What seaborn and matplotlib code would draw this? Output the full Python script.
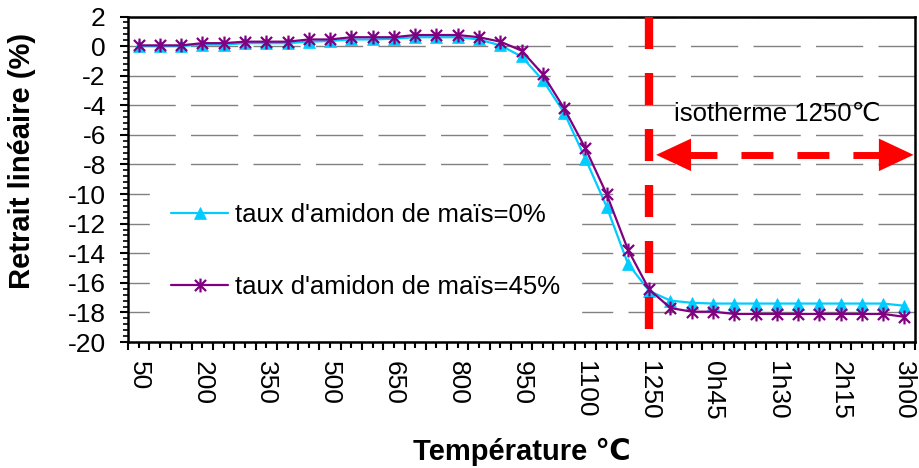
import numpy as np
import pandas as pd
import matplotlib
matplotlib.use("Agg")
import matplotlib.pyplot as plt
from matplotlib.path import Path
from matplotlib.ticker import MultipleLocator
import seaborn as sns


# -----------------------------
# 1. Data
# -----------------------------
# x categories : heating ramp (°C) then time spent on the 1250°C isotherm
temperatures = ["50", "100", "150", "200", "250", "300", "350", "400", "450",
                "500", "550", "600", "650", "700", "750", "800", "850", "900",
                "950", "1000", "1050", "1100", "1150", "1200", "1250"]
durations = ["0h15", "0h30", "0h45", "1h00", "1h15", "1h30",
             "1h45", "2h00", "2h15", "2h30", "2h45", "3h00"]
categories = temperatures + durations

# linear shrinkage (%)
retrait_0 = [0.0, 0.0, 0.0, 0.1, 0.1, 0.2, 0.2, 0.2, 0.3, 0.35, 0.45, 0.45,
             0.5, 0.6, 0.6, 0.6, 0.45, 0.05, -0.7, -2.3, -4.5, -7.6, -10.85,
             -14.7, -16.55, -17.2, -17.35, -17.4, -17.4, -17.4, -17.4, -17.4,
             -17.4, -17.4, -17.4, -17.4, -17.55]
retrait_45 = [0.05, 0.05, 0.05, 0.2, 0.2, 0.3, 0.3, 0.3, 0.45, 0.45, 0.6, 0.6,
              0.6, 0.75, 0.75, 0.75, 0.6, 0.3, -0.3, -1.9, -4.2, -6.9, -10.0,
              -13.75, -16.45, -17.7, -17.95, -17.95, -18.1, -18.1, -18.1, -18.1,
              -18.1, -18.1, -18.1, -18.1, -18.3]

label_0 = "taux d'amidon de maïs=0%"
label_45 = "taux d'amidon de maïs=45%"
isotherm = "1250"

data = pd.DataFrame({
    "Categorie": categories,
    "Position": np.arange(len(categories)),
    "Retrait_0": retrait_0,
    "Retrait_45": retrait_45,
})


# -----------------------------
# 2. Style
# -----------------------------
sns.set_style("ticks")
plt.rcParams["font.family"] = ["Liberation Sans", "DejaVu Sans"]
plt.rcParams["axes.unicode_minus"] = False
plt.rcParams["text.color"] = "black"
plt.rcParams["axes.labelcolor"] = "black"
plt.rcParams["xtick.color"] = "black"
plt.rcParams["ytick.color"] = "black"

fig = plt.figure(figsize=(9.19, 4.68), dpi=100)
ax = fig.add_axes([0.1393, 0.2692, 0.8564, 0.6955])

# asterisk marker : vertical bar + cross
star = Path(
    [(0, -1), (0, 1), (-0.8, -0.8), (0.8, 0.8), (-0.8, 0.8), (0.8, -0.8)],
    [Path.MOVETO, Path.LINETO] * 3,
)


# -----------------------------
# 3. Curves
# -----------------------------
sns.lineplot(data=data, x="Position", y="Retrait_0", ax=ax,
             color="#00CCFF", lw=1.6, marker="^", markersize=9,
             markeredgecolor="#00CCFF", markeredgewidth=0.5,
             label=label_0, zorder=3)
sns.lineplot(data=data, x="Position", y="Retrait_45", ax=ax,
             color="#800080", lw=1.6, marker=star, markersize=10,
             markeredgecolor="#800080", markeredgewidth=1.6,
             label=label_45, zorder=4)


# -----------------------------
# 4. Isotherm marks
# -----------------------------
ymin, ymax = -20, 2
n = len(categories)
iso = categories.index(isotherm)

ax.plot([iso, iso], [ymax, ymin], color="red", lw=6,
        linestyle=(0, (3.84, 2.88)), zorder=5, clip_on=True)

arrow_y = -7.35
head_h = 1.1
ax.fill([iso + 0.33, iso + 1.97, iso + 1.97],
        [arrow_y, arrow_y + head_h, arrow_y - head_h],
        color="red", lw=0, zorder=5)
ax.fill([n - 0.57, n - 2.2, n - 2.2],
        [arrow_y, arrow_y + head_h, arrow_y - head_h],
        color="red", lw=0, zorder=5)
ax.plot([iso + 1.69, n - 2.0], [arrow_y, arrow_y], color="red", lw=5,
        linestyle=(0, (4.6, 3.46)), zorder=5)

ax.text(iso + 6.0, -4.6, "isotherme 1250℃", fontsize=18.5,
        ha="center", va="center", zorder=6)


# -----------------------------
# 5. Axes
# -----------------------------
ax.set_xlim(-0.5, n - 0.5)
ax.set_ylim(ymin, ymax)

ax.set_xticks(data["Position"])
ax.set_xticklabels([c if i % 3 == 0 else "" for i, c in enumerate(categories)],
                   rotation=-90, fontsize=19)
ax.set_xticks(np.arange(n + 1) - 0.5, minor=True)
ax.tick_params(axis="x", which="major", length=4, width=1.5,
               direction="out", pad=10, bottom=True)
ax.tick_params(axis="x", which="minor", length=6, width=1.5,
               direction="out", bottom=True)

ax.set_yticks(np.arange(ymin, ymax + 1, 2))
ax.yaxis.set_minor_locator(MultipleLocator(0.4))
ax.tick_params(axis="y", which="major", length=6, width=1.5,
               direction="out", pad=10, left=True, labelsize=19)
ax.tick_params(axis="y", which="minor", length=3.5, width=1.2,
               direction="out", left=True)

ax.yaxis.grid(True, color="#808080", lw=1, linestyle=(0, (34, 11)))
ax.xaxis.grid(False)
ax.set_axisbelow(True)

for spine in ax.spines.values():
    spine.set_visible(True)
    spine.set_color("black")
    spine.set_linewidth(1.8)

ax.set_xlabel("Température ℃", fontsize=21, fontweight="bold")
ax.xaxis.set_label_coords(0.5, -0.338)
ax.xaxis.label.set_va("center")
ax.set_ylabel("Retrait linéaire (%)", fontsize=21, fontweight="bold")
ax.yaxis.set_label_coords(-0.135, 0.556)
ax.yaxis.label.set_va("center")

ax.legend(loc="center left", bbox_to_anchor=(0.028, 0.28), fontsize=18.5,
          frameon=True, facecolor="white", edgecolor="white", framealpha=1,
          fancybox=False, borderpad=0.8, borderaxespad=0, handlelength=2.25,
          handletextpad=0.25, labelspacing=1.85)

fig.savefig("out.png", dpi=100)
